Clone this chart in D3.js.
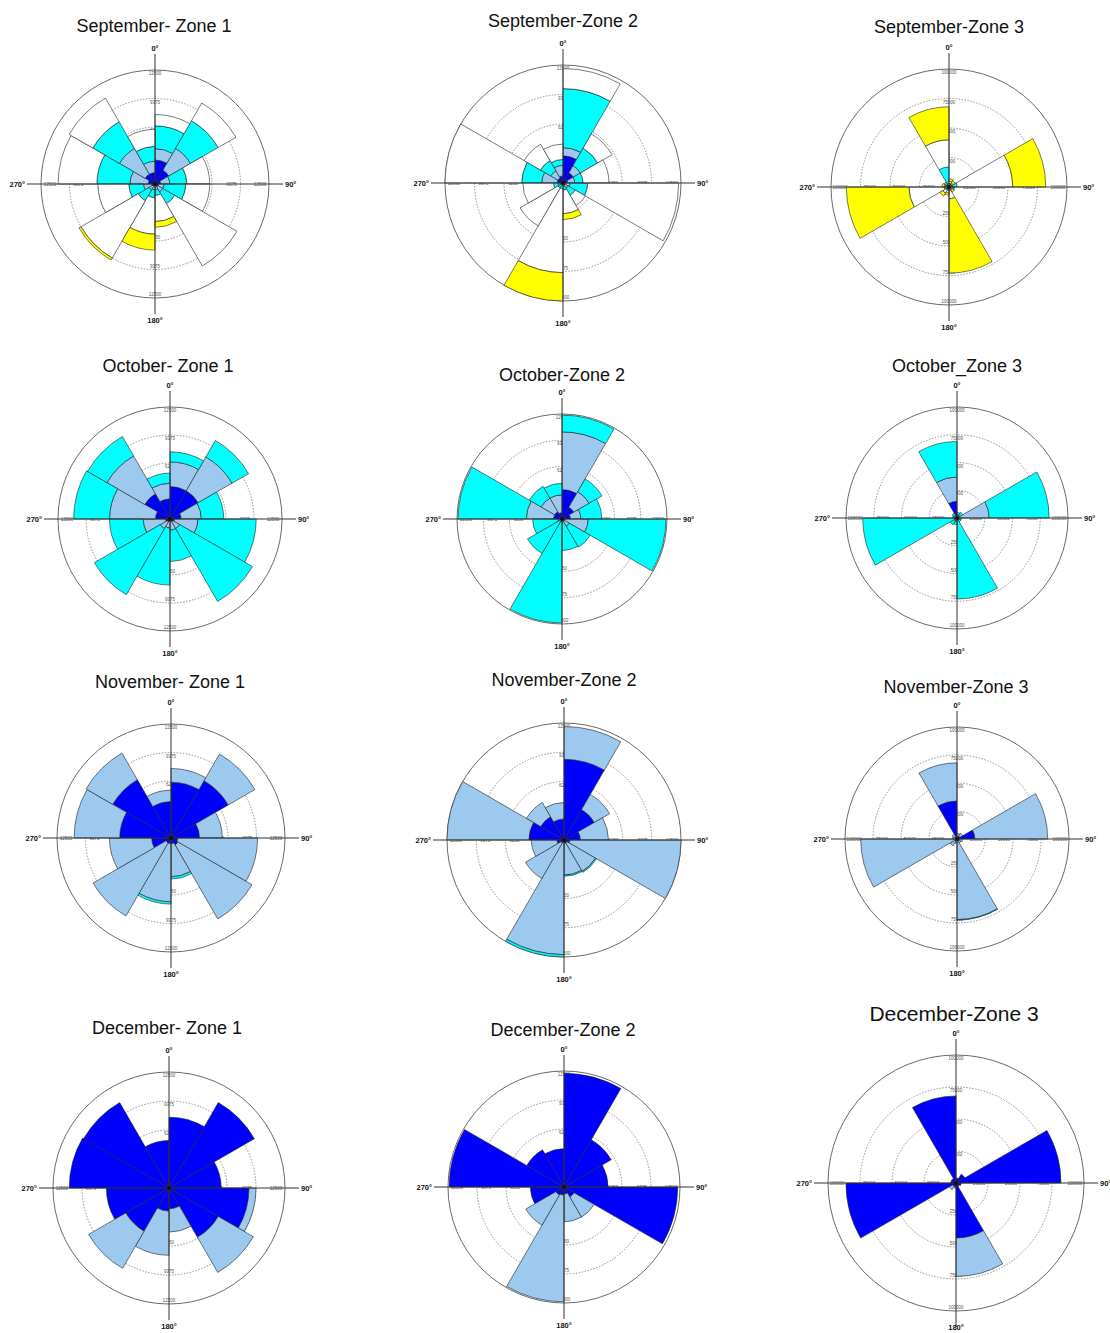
<!DOCTYPE html>
<html>
<head>
<meta charset="utf-8">
<script src="https://cdn.jsdelivr.net/npm/d3@7"></script>
<style>
  body { margin: 0; background: #fff; }
  svg { display: block; }
</style>
</head>
<body>
<div id="chart"></div>
<script>
// sector start angles (degrees, clockwise from north), 30 deg wide each
var directions = [0, 30, 60, 90, 120, 150, 180, 210, 240, 270, 300, 330];
var classColors = ["#0000ff", "#9dc9ef", "#00ffff", "#ffffff", "#ffff00"];
var compassLabels = ["0°", "90°", "180°", "270°"];

var ticksZone12 = [3125, 6250, 9375, 12500];
var ticksZone3 = [25000, 50000, 75000, 100000];

var titles = [
  "September- Zone 1", "September-Zone 2", "September-Zone 3",
  "October- Zone 1", "October-Zone 2", "October_Zone 3",
  "November- Zone 1", "November-Zone 2", "November-Zone 3",
  "December- Zone 1", "December-Zone 2", "December-Zone 3"
];

// one row per sector: [class1, class2, class3, class4, class5]
var sepZone1 = [
  [2625, 1250, 2500, 1250, 0], [1750, 2750, 3500, 2250, 0], [625, 1000, 1875, 2500, 0],
  [375, 625, 2375, 2625, 0], [375, 625, 1500, 7875, 0], [250, 375, 625, 2875, 625],
  [250, 375, 875, 4000, 1750], [250, 500, 1375, 7250, 250], [375, 875, 1625, 3375, 0],
  [750, 2000, 3625, 4250, 0], [1250, 3250, 3375, 3000, 0], [1250, 1250, 1625, 1875, 0]
];
var sepZone2 = [
  [2875, 875, 6250, 2125, 0], [1250, 875, 2125, 1750, 0], [500, 750, 875, 2750, 0],
  [250, 500, 1875, 9625, 0], [250, 375, 875, 1250, 0], [125, 250, 375, 2500, 625],
  [125, 125, 375, 8875, 3000], [125, 125, 375, 4625, 0], [250, 250, 500, 3250, 0],
  [625, 1625, 2125, 8125, 0], [625, 875, 1250, 2000, 0], [750, 1125, 625, 1625, 0]
];
var sepZone3 = [
  [1000, 1000, 1000, 2000, 2000], [1000, 1000, 1000, 1000, 2000], [1000, 2000, 4000, 47000, 28000],
  [1000, 1000, 1000, 1000, 1000], [1000, 500, 500, 1000, 2000], [1000, 1000, 1000, 7000, 63000],
  [1000, 1000, 1000, 2000, 2000], [1000, 1000, 1000, 3000, 3000], [1000, 1000, 2000, 30000, 53000],
  [1000, 1000, 1000, 1000, 2000], [1000, 1000, 1000, 1000, 1000], [1000, 2000, 14000, 23000, 28000]
];
var octZone1 = [
  [3625, 2750, 1125, 0, 0], [3625, 4375, 2125, 0, 0], [1250, 2250, 2500, 0, 0],
  [500, 2625, 6500, 0, 0], [375, 875, 9375, 0, 0], [250, 1000, 3500, 0, 0],
  [250, 750, 6375, 0, 0], [375, 875, 8500, 0, 0], [500, 2500, 3750, 0, 0],
  [1625, 5125, 4000, 0, 0], [3250, 4875, 2500, 0, 0], [2250, 1750, 1125, 0, 0]
];
var octZone2 = [
  [3500, 6875, 2000, 0, 0], [1625, 2125, 1750, 0, 0], [1000, 1250, 2500, 0, 0],
  [375, 2750, 9250, 0, 0], [250, 750, 2875, 0, 0], [125, 250, 3375, 0, 0],
  [125, 125, 12125, 0, 0], [125, 250, 4375, 0, 0], [250, 250, 3000, 0, 0],
  [1000, 3250, 8125, 0, 0], [1000, 1875, 1625, 0, 0], [750, 2125, 1375, 0, 0]
];
var octZone3 = [
  [1000, 2000, 2000, 0, 0], [1000, 2000, 3000, 0, 0], [1000, 28000, 54000, 0, 0],
  [1000, 1000, 2000, 0, 0], [1000, 1000, 2000, 0, 0], [1000, 1000, 71000, 0, 0],
  [1000, 2000, 3000, 0, 0], [1000, 2000, 4000, 0, 0], [1000, 1000, 83000, 0, 0],
  [1000, 1000, 2000, 0, 0], [1000, 2000, 2000, 0, 0], [15000, 22000, 32000, 0, 0]
];
var novZone1 = [
  [6125, 1500, 0, 0, 0], [7250, 3375, 0, 0, 0], [3125, 2500, 0, 0, 0],
  [750, 8750, 0, 0, 0], [875, 9375, 0, 0, 0], [625, 3625, 250, 0, 0],
  [625, 6375, 250, 0, 0], [625, 9250, 0, 0, 0], [2125, 4625, 0, 0, 0],
  [5625, 5000, 0, 0, 0], [7375, 3375, 0, 0, 0], [4000, 1250, 0, 0, 0]
];
var novZone2 = [
  [8625, 3500, 0, 0, 0], [3750, 1875, 0, 0, 0], [1750, 3000, 0, 0, 0],
  [625, 11875, 0, 0, 0], [375, 3500, 125, 0, 0], [375, 3375, 125, 0, 0],
  [250, 12000, 250, 0, 0], [375, 4375, 0, 0, 0], [750, 2750, 0, 0, 0],
  [3750, 8750, 0, 0, 0], [2875, 1750, 0, 0, 0], [2250, 1750, 0, 0, 0]
];
var novZone3 = [
  [2000, 3000, 0, 0, 0], [3000, 3000, 0, 0, 0], [16000, 65000, 0, 0, 0],
  [2000, 3000, 0, 0, 0], [1000, 3000, 0, 0, 0], [1000, 71000, 500, 0, 0],
  [1000, 3000, 0, 0, 0], [2000, 5000, 0, 0, 0], [1000, 85000, 0, 0, 0],
  [1000, 3000, 0, 0, 0], [2000, 3000, 0, 0, 0], [34000, 34000, 0, 0, 0]
];
var decZone1 = [
  [7625, 0, 0, 0, 0], [10625, 0, 0, 0, 0], [5625, 0, 0, 0, 0],
  [8625, 750, 0, 0, 0], [6125, 4375, 0, 0, 0], [2250, 2500, 0, 0, 0],
  [2500, 4750, 0, 0, 0], [5375, 4625, 0, 0, 0], [6750, 0, 0, 0, 0],
  [10750, 0, 0, 0, 0], [10625, 0, 0, 0, 0], [5125, 0, 0, 0, 0]
];
var decZone2 = [
  [12250, 0, 0, 0, 0], [5875, 0, 0, 0, 0], [4750, 0, 0, 0, 0],
  [12250, 0, 0, 0, 0], [1250, 2500, 0, 0, 0], [750, 3000, 0, 0, 0],
  [875, 11500, 0, 0, 0], [1000, 3750, 0, 0, 0], [3625, 0, 0, 0, 0],
  [12375, 0, 0, 0, 0], [4625, 0, 0, 0, 0], [4125, 0, 0, 0, 0]
];
var decZone3 = [
  [4000, 0, 0, 0, 0], [8000, 0, 0, 0, 0], [82000, 0, 0, 0, 0],
  [4000, 0, 0, 0, 0], [3000, 0, 0, 0, 0], [43000, 30000, 0, 0, 0],
  [3000, 1000, 0, 0, 0], [3000, 3000, 0, 0, 0], [86000, 0, 0, 0, 0],
  [4000, 0, 0, 0, 0], [4000, 0, 0, 0, 0], [68000, 0, 0, 0, 0]
];

var datasets = [sepZone1, sepZone2, sepZone3, octZone1, octZone2, octZone3,
                novZone1, novZone2, novZone3, decZone1, decZone2, decZone3];
var tickSets = [ticksZone12, ticksZone12, ticksZone3, ticksZone12, ticksZone12, ticksZone3,
                ticksZone12, ticksZone12, ticksZone3, ticksZone12, ticksZone12, ticksZone3];

// panel layout: centre, radius, title position/size
var layout = [
  {cx: 155, cy: 184, r: 114, tx: 154, ty: 32, ts: 18},
  {cx: 563, cy: 183, r: 118, tx: 563, ty: 27, ts: 18},
  {cx: 949, cy: 187, r: 118, tx: 949, ty: 33, ts: 18},
  {cx: 170, cy: 519, r: 112, tx: 168, ty: 372, ts: 18},
  {cx: 562, cy: 519, r: 105, tx: 562, ty: 381, ts: 18},
  {cx: 957, cy: 518, r: 111, tx: 957, ty: 372, ts: 18},
  {cx: 171, cy: 838, r: 114, tx: 170, ty: 688, ts: 18},
  {cx: 564, cy: 840, r: 117, tx: 564, ty: 686, ts: 18},
  {cx: 957, cy: 839, r: 112, tx: 956, ty: 693, ts: 18},
  {cx: 169, cy: 1188, r: 116, tx: 167, ty: 1034, ts: 18},
  {cx: 564, cy: 1187, r: 116, tx: 563, ty: 1036, ts: 18},
  {cx: 956, cy: 1183, r: 128, tx: 954, ty: 1021, ts: 21}
];

var svgHeight = 1333;

var svg = d3.select("#chart")
  .append("svg")
  .attr("width", 1110)
  .attr("height", svgHeight);

var stack = d3.stack()
  .keys([0, 1, 2, 3, 4])
  .value((d, k) => d.v[k]);

var sectorWidth = Math.PI / 6;

datasets.forEach(function(rows, i) {
  var L = layout[i];
  var ticks = tickSets[i];
  var maxVal = ticks[ticks.length - 1];

  var rScale = d3.scaleLinear()
    .domain([0, maxVal])
    .range([0, L.r]);

  var g = svg.append("g")
    .attr("transform", `translate(${L.cx}, ${L.cy})`);

  // title
  svg.append("text")
    .attr("x", L.tx)
    .attr("y", L.ty)
    .attr("text-anchor", "middle")
    .attr("font-family", "Liberation Sans, Arial, sans-serif")
    .attr("font-size", L.ts + "px")
    .attr("fill", "#111")
    .text(titles[i]);

  // rings
  g.selectAll("circle.ring")
    .data(ticks)
    .enter()
    .append("circle")
    .attr("class", "ring")
    .attr("r", d => rScale(d))
    .attr("fill", "none")
    .attr("stroke", (d, j) => j === ticks.length - 1 ? "#444" : "#666")
    .attr("stroke-width", (d, j) => j === ticks.length - 1 ? 0.8 : 0.7)
    .attr("stroke-dasharray", (d, j) => j === ticks.length - 1 ? null : "1.5,1.5");

  // ring labels along the four axes (drawn under the bars)
  var labelPos = [];
  ticks.forEach(function(t) {
    var rr = rScale(t);
    labelPos.push({t: t, x: 0, y: -rr + 4});
    labelPos.push({t: t, x: 0, y: rr - 3});
    labelPos.push({t: t, x: rr - 9, y: 1});
    labelPos.push({t: t, x: -rr + 9, y: 1});
  });
  g.selectAll("text.tick")
    .data(labelPos)
    .enter()
    .append("text")
    .attr("class", "tick")
    .attr("x", d => d.x)
    .attr("y", d => d.y)
    .attr("text-anchor", "middle")
    .attr("dominant-baseline", "middle")
    .attr("font-family", "Liberation Sans, Arial, sans-serif")
    .attr("font-size", "4.5px")
    .attr("fill", "#555")
    .text(d => d.t);

  // stacked sectors
  var table = rows.map((v, j) => ({dir: directions[j], v: v}));
  var series = stack(table);

  var arc = d3.arc()
    .innerRadius(d => rScale(d[0]))
    .outerRadius(d => rScale(d[1]))
    .startAngle(d => d.data.dir * Math.PI / 180)
    .endAngle(d => d.data.dir * Math.PI / 180 + sectorWidth);

  g.selectAll("g.layer")
    .data(series)
    .enter()
    .append("g")
    .attr("class", "layer")
    .attr("fill", d => classColors[d.key])
    .selectAll("path")
    .data(d => d.filter(p => p[1] > p[0]))
    .enter()
    .append("path")
    .attr("d", arc)
    .attr("stroke", "#222")
    .attr("stroke-width", 0.6);

  // axis cross on top
  var ext = L.r + 14;
  g.append("line")
    .attr("x1", 0).attr("y1", -ext - 2)
    .attr("x2", 0).attr("y2", ext + 2)
    .attr("stroke", "#333")
    .attr("stroke-width", 1);
  g.append("line")
    .attr("x1", -ext).attr("y1", 0)
    .attr("x2", ext).attr("y2", 0)
    .attr("stroke", "#333")
    .attr("stroke-width", 1);
  g.append("circle")
    .attr("r", 2)
    .attr("fill", "#111");

  // compass labels (keep the bottom one inside the page)
  var southY = Math.min(ext + 11, svgHeight - 3 - L.cy);
  var cl = [
    {t: compassLabels[0], x: 0, y: -ext - 5, a: "middle"},
    {t: compassLabels[1], x: ext + 2, y: 3, a: "start"},
    {t: compassLabels[2], x: 0, y: southY, a: "middle"},
    {t: compassLabels[3], x: -ext - 2, y: 3, a: "end"}
  ];
  g.selectAll("text.compass")
    .data(cl)
    .enter()
    .append("text")
    .attr("class", "compass")
    .attr("x", d => d.x)
    .attr("y", d => d.y)
    .attr("text-anchor", d => d.a)
    .attr("font-family", "Liberation Sans, Arial, sans-serif")
    .attr("font-size", "7.5px")
    .attr("font-weight", "700")
    .attr("fill", "#111")
    .text(d => d.t);
});
</script>
</body>
</html>
